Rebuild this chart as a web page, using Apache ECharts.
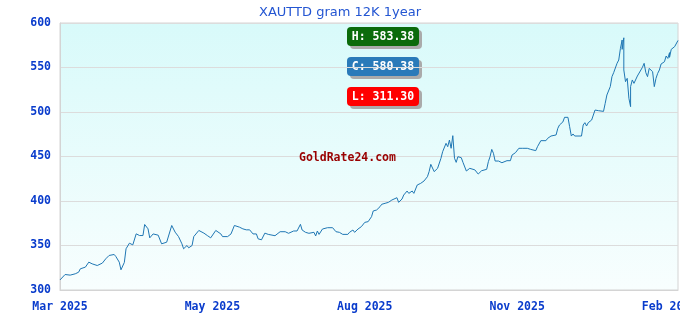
<!DOCTYPE html>
<html>
<head>
<meta charset="utf-8">
<script src="https://cdn.jsdelivr.net/npm/echarts@6/dist/echarts.min.js"></script>
<style>html,body{margin:0;padding:0;background:#fff}#c{width:680px;height:320px}</style>
</head>
<body>
<div id="c"></div>
<script>
// Day index (from start of the 1-year window) and price
const days = [0,3,6,9,11,12,15,17,19,22,25,27,28,29,32,33,35,36,38,39,41,43,45,47,49,50,52,53,55,58,60,63,66,68,70,72,73,75,76,78,79,82,85,87,89,90,92,95,96,99,101,103,104,106,108,110,112,114,116,117,119,121,122,123,127,130,133,135,138,140,142,143,145,147,148,150,151,152,153,155,158,161,163,165,167,170,171,173,174,176,178,180,182,184,185,187,188,189,190,192,194,196,197,199,200,202,203,205,206,208,209,210,211,213,215,217,218,219,221,223,224,225,226,228,229,230,231,232,233,234,235,237,238,240,242,245,246,247,249,250,252,253,254,255,256,257,259,261,262,264,265,266,267,269,270,271,273,274,276,278,281,282,284,285,287,288,289,290,293,294,295,297,298,300,301,302,303,304,308,309,310,311,312,314,315,316,318,321,322,323,325,326,327,328,329,330,331,332,332,333,333,334,335,336,337,337,338,339,340,341,342,344,345,346,347,348,349,350,351,352,353,354,355,357,358,359,360,360,361,363,364,365];
const prices = [311.30,317.4,316.7,318.2,320.0,323.8,325.7,331.3,329.4,327.5,330.2,335.0,333.0,338.8,339.9,337.6,331.3,322.7,331.0,346.3,352.6,350.7,363.1,361.2,361.2,373.6,368.7,358.6,363.0,361.6,351.9,353.7,372.5,365.0,360.0,351.9,346.3,350.0,347.4,350.0,360.0,366.9,363.9,361.2,358.6,358.6,366.9,363.0,360.0,360.0,363.0,372.5,374.3,370.6,368.7,367.6,367.6,363.0,363.0,357.5,356.4,363.9,363.0,362.5,361.0,365.5,365.5,363.7,366.3,366.3,373.8,367.4,364.8,363.7,362.5,364.8,360.7,366.3,362.5,368.5,370.0,370.0,365.5,364.8,362.5,362.5,364.8,367.4,364.8,368.5,371.2,376.0,376.8,382.4,388.8,389.9,391.8,393.6,396.3,397.4,398.5,401.1,401.1,403.7,398.5,402.2,406.7,411.2,408.6,411.2,408.6,408.6,418.0,419.8,422.5,427.3,433.0,441.2,433.0,436.7,438.6,448.0,455.4,464.8,461.0,468.5,459.2,473.4,448.0,443.4,449.8,448.7,443.4,433.7,436.7,435.0,433.0,430.3,434.0,435.6,435.6,444.2,449.8,458.0,453.6,444.9,444.9,443.0,444.2,445.3,443.8,445.3,451.7,454.3,453.0,459.2,459.2,460.3,459.2,458.0,456.6,461.0,467.8,468.5,467.8,470.4,471.5,473.0,474.2,481.6,485.4,488.8,494.0,494.0,483.5,473.0,475.3,473.0,473.0,485.4,488.0,484.3,488.0,491.0,492.9,502.2,501.5,500.7,509.7,519.1,528.5,539.7,544.2,543.4,554.7,558.4,571.5,580.9,570.4,583.38,547.2,534.1,537.8,515.4,506.0,528.5,536.0,532.2,534.0,540.4,540.4,550.2,554.7,544.2,539.7,549.0,550.2,545.3,528.5,537.8,543.4,547.2,553.9,556.5,562.9,560.2,566.7,561.4,570.4,573.4,575.3,580.38];
const tickDays = [0, 90, 180, 270, 360];
const tickLabels = ['Mar 2025', 'May 2025', 'Aug 2025', 'Nov 2025', 'Feb 2026'];
const yTicks = [300, 350, 400, 450, 500, 550, 600];
const titleText = 'XAUTTD gram 12K 1year';
const watermark = 'GoldRate24.com';

const hi = Math.max.apply(null, prices);
const lo = Math.min.apply(null, prices);
const cur = prices[prices.length - 1];

const chart = echarts.init(document.getElementById('c'), null, {renderer: 'canvas'});
const mono = 'DejaVu Sans Mono';
const axisBlue = '#0a3ccc';

function badge(y, color, label) {
  return {
    type: 'group', left: 347, top: y,
    children: [
      {type: 'rect', shape: {x: 3, y: 3, width: 72, height: 19, r: 4}, style: {fill: '#aaaaaa'}},
      {type: 'rect', shape: {x: 0, y: 0, width: 72, height: 19, r: 4}, style: {fill: color}},
      {type: 'text', x: 36, y: 10, style: {text: label, fill: '#ffffff', font: 'bold 11.5px "' + mono + '"', textAlign: 'center', textVerticalAlign: 'middle'}}
    ]
  };
}

chart.setOption({
  animation: false,
  backgroundColor: '#ffffff',
  title: {
    text: titleText, left: 'center', top: 1,
    textStyle: {fontFamily: 'DejaVu Sans', fontSize: 13, fontWeight: 'normal', color: '#2456d2'}
  },
  grid: {
    left: 60, right: 2, top: 23, bottom: 30, show: true,
    outerBoundsMode: 'none', containLabel: false,
    borderColor: '#d4d4d4', borderWidth: 1,
    backgroundColor: new echarts.graphic.LinearGradient(0, 0, 0, 1, [
      {offset: 0, color: '#d8fafa'}, {offset: 1, color: '#f8fefe'}
    ])
  },
  xAxis: {
    type: 'value', min: 0, max: 365, interval: 90,
    axisLine: {show: true, lineStyle: {color: '#d4d4d4'}},
    axisTick: {show: false},
    splitLine: {show: false},
    axisLabel: {
      margin: 11, showMaxLabel: false, hideOverlap: false,
      fontFamily: mono, fontWeight: 'bold', fontSize: 11.5, color: axisBlue,
      formatter: function (v) { const i = tickDays.indexOf(v); return i >= 0 ? tickLabels[i] : ''; }
    }
  },
  yAxis: {
    type: 'value', min: yTicks[0], max: yTicks[yTicks.length - 1], interval: 50,
    axisLine: {show: true, lineStyle: {color: '#d4d4d4'}},
    axisTick: {show: false},
    splitLine: {show: true, lineStyle: {color: '#dcdcdc', width: 1}},
    axisLabel: {margin: 9, fontFamily: mono, fontWeight: 'bold', fontSize: 11.5, color: axisBlue}
  },
  series: [{
    type: 'line', showSymbol: false, symbol: 'none',
    data: days.map(function (d, i) { return [d, prices[i]]; }),
    lineStyle: {color: '#1f77b4', width: 1},
    z: 3
  }],
  graphic: [
    badge(27, '#0b6b0b', 'H: ' + hi.toFixed(2)),
    badge(57, '#2a7ab9', 'C: ' + cur.toFixed(2)),
    badge(87, '#ff0000', 'L: ' + lo.toFixed(2)),
    {type: 'text', left: 299, top: 152, z: 1,
     style: {text: watermark, fill: '#990000', font: 'bold 11.5px "' + mono + '"'}}
  ]
});
</script>
</body>
</html>
